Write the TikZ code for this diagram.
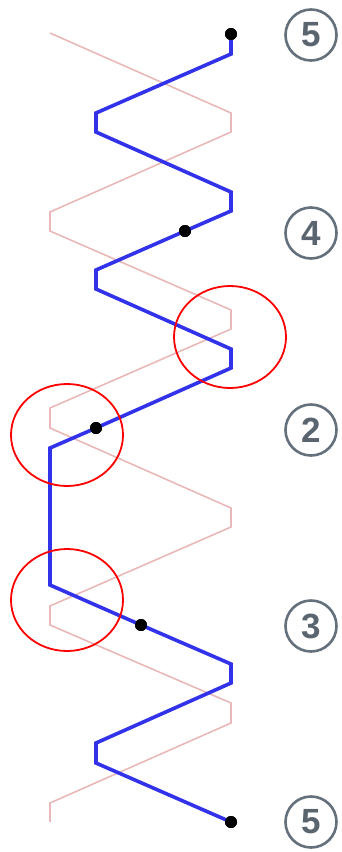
\documentclass[tikz,border=0pt]{standalone}
\usepackage{fontspec}
\setsansfont{Liberation Sans}
\definecolor{wire}{RGB}{50,50,235}
\definecolor{ghost}{RGB}{234,184,184}
\definecolor{slate}{RGB}{100,112,124}
\tikzset{
  stop/.style={circle, fill=black, inner sep=0pt, minimum size=12pt},
  badge/.style={circle, draw=slate, line width=2.6pt, minimum size=51pt, inner sep=0pt,
    text=slate!90!black, font=\sffamily\bfseries\fontsize{35}{35}\selectfont},
  mark ring/.style={red, line width=1.8pt}
}
\begin{document}
\begin{tikzpicture}[x=1pt,y=-1pt]
  \useasboundingbox (0,0) rectangle (342,852);
  % Old route
  \draw[ghost, line width=1.6pt] (50,33) -- (231,113) -- (231,132) -- (50,212) -- (50,231)
    -- (231,310) -- (231,329) -- (50,408) -- (50,428) -- (231,508) -- (231,527)
    -- (50,606) -- (50,625) -- (231,703) -- (231,723) -- (50,803) -- (50,822);
  % Stops
  \node[stop] (top) at (231,34) {};
  \node[stop] (upper) at (185,231) {};
  \node[stop] (middle) at (96,428) {};
  \node[stop] (lower) at (141,625) {};
  \node[stop] (bottom) at (231,822) {};
  % New route
  \draw[wire, line width=3.6pt] (top.center) -- (231,54) -- (96,113) -- (96,132) -- (231,192)
    -- (231,211) -- (upper.center) -- (96,270) -- (96,289) -- (231,349) -- (231,368)
    -- (middle.center) -- (50,448) -- (50,585) -- (lower.center) -- (231,664) -- (231,683)
    -- (96,743) -- (96,763) -- (bottom.center);
  \foreach \s in {top,upper,middle,lower,bottom} \node[stop] at (\s) {};
  % Marked spots
  \draw[mark ring] (230,337) ellipse (56 and 51);
  \draw[mark ring] (67,435) ellipse (56 and 51);
  \draw[mark ring] (67,600) ellipse (56 and 51);
  % Labels
  \node[badge] (n1) at (311,35) {5};
  \node[badge] (n2) at (311,233) {4};
  \node[badge] (n3) at (311,430) {2};
  \node[badge] (n4) at (311,626) {3};
  \node[badge] (n5) at (311,822) {5};
\end{tikzpicture}
\end{document}
